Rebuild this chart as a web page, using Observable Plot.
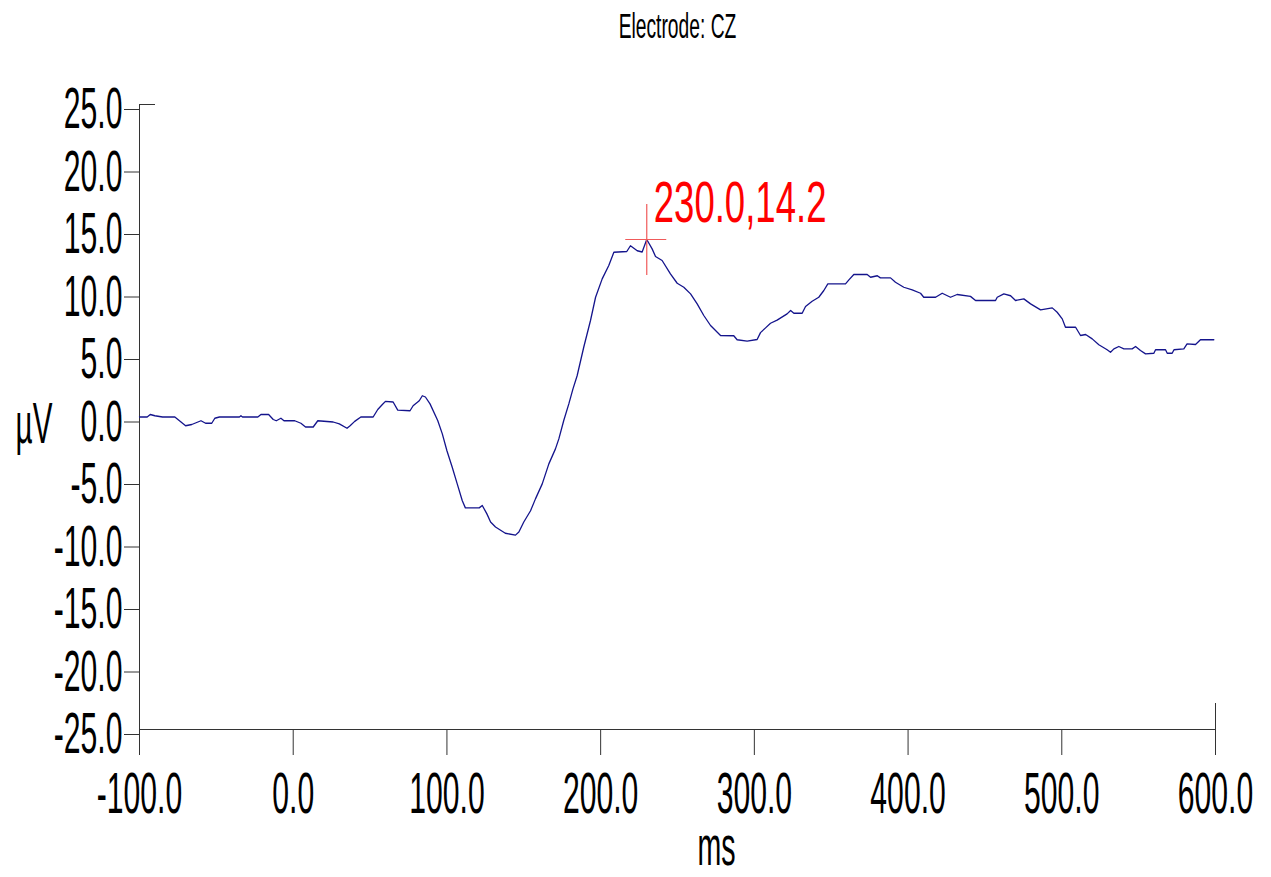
<!DOCTYPE html>
<html><head><meta charset="utf-8">
<script src="https://cdn.jsdelivr.net/npm/d3@7"></script>
<script src="https://cdn.jsdelivr.net/npm/@observablehq/plot@0.6"></script>
<style>body{margin:0;background:#fff;} #chart svg{display:block}</style>
</head><body><div id="chart"></div>
<script>
const title = "Electrode: CZ";
const xLabel = "ms";
const yLabel = "µV";
const xTicks = [-100, 0, 100, 200, 300, 400, 500, 600];
const yTicks = [-25, -20, -15, -10, -5, 0, 5, 10, 15, 20, 25];
const peakT = 230.0;
const peakV = 14.2;
const peakLabel = "230.0,14.2";

const timeMs = [-100,-95,-93,-90,-85,-77,-74,-70,-66,-62,-60,-57,-53,-51,-48,-35,-34,-33,-23,-21,-16,-13,-11,-8,-6,1,5,8,13,16,26,30,35,37,40,44,52,55,58,60,65,68,76,78,82,84,86,89,94,97,100,103.4,106.7,110,112,121,123,126,128.4,131.6,138,144.6,146.8,150,154.4,157.6,162,166.3,170.6,172.8,176,179.3,182,184.7,189,193.4,196.7,201,205.3,208.6,217,219.4,223.8,227,230,233.5,235.7,240,245.4,249.8,254.1,258.5,262.8,267.1,271.5,278,286.6,288.8,295.3,301.8,304,307.3,310.5,314.8,321.3,323.6,325.7,331.1,333.3,337.6,341.9,345.2,347.8,359.3,361.5,364.7,373.4,375.6,380,382,388.6,391.8,397.2,402.7,408.1,410.2,417.9,422.2,427.6,431.9,440.6,443.9,456.9,458,462.3,466.7,469.9,475.3,479.7,486.2,493.8,497,500.3,502.4,509,512.2,515.5,519.8,524.1,529.5,531.7,533.9,537.1,540.4,545.8,548,551.2,554.5,559.9,561,567.5,568.6,571.8,573,579.4,581.5,587,590.2,598.9];
const microV = [0.0,0.0,0.2,0.1,0.0,0.0,-0.3,-0.7,-0.6,-0.4,-0.3,-0.5,-0.5,-0.1,0.0,0.0,0.1,0.0,0.0,0.2,0.2,-0.2,-0.3,-0.1,-0.3,-0.3,-0.5,-0.8,-0.8,-0.3,-0.4,-0.55,-0.9,-0.7,-0.35,0.0,0.0,0.6,1.0,1.25,1.2,0.55,0.5,0.9,1.3,1.7,1.6,1.05,-0.28,-1.35,-2.7,-4.0,-5.35,-6.7,-7.27,-7.27,-7.08,-7.75,-8.4,-8.8,-9.3,-9.45,-9.2,-8.4,-7.5,-6.55,-5.35,-3.75,-2.55,-1.75,-0.28,1.05,2.25,3.3,5.58,7.72,9.58,11.05,12.12,13.18,13.24,13.7,13.3,13.2,14.2,13.45,12.84,12.52,11.45,10.7,10.38,9.85,9.05,8.12,7.32,6.52,6.5,6.18,6.07,6.2,6.75,7.13,7.5,7.75,8.25,8.52,8.3,8.3,8.84,9.26,9.58,10.12,10.65,10.65,10.97,11.4,11.4,11.18,11.3,11.13,11.13,10.78,10.38,10.17,9.9,9.58,9.58,9.9,9.58,9.8,9.65,9.32,9.32,9.58,9.85,9.7,9.32,9.45,9.05,8.57,8.73,8.38,7.85,7.18,7.18,6.52,6.6,6.25,5.78,5.38,5.18,5.45,5.64,5.45,5.45,5.64,5.32,5.05,5.1,5.38,5.38,5.1,5.1,5.38,5.45,5.85,5.8,6.18,6.18];

const data = timeMs.map((t, i) => ({t, v: microV[i]}));
const peak = [{t: peakT, v: peakV}];
const fmt = d => d.toFixed(1);

const chart = Plot.plot({
  width: 1271, height: 877,
  marginLeft: 139, marginRight: 56, marginTop: 104, marginBottom: 148,
  style: {fontFamily: "'Liberation Sans', Arial, sans-serif", fontSize: "58px", background: "#fff", color: "#000"},
  x: {domain: [-100, 600]},
  y: {domain: [-25, 25]},
  marks: [
    Plot.axisY({ticks: yTicks, tickFormat: fmt, tickSize: 15, tickPadding: 2, dy: 5, label: null, stroke: "#333", fill: "#000"}),
    Plot.axisX({ticks: xTicks, tickFormat: fmt, tickSize: 26, tickPadding: 16, label: null, stroke: "#333", fill: "#000"}),
    Plot.ruleX([-100], {stroke: "#333"}),
    Plot.ruleY([-25], {stroke: "#333"}),
    Plot.ruleX([600], {y1: -25, y2: -25, insetTop: -26, stroke: "#333"}),
    Plot.ruleY([25, -25], {x1: -100, x2: -100, insetRight: -16, stroke: "#333"}),
    Plot.line(data, {x: "t", y: "v", stroke: "#14148c", strokeWidth: 1.3}),
    Plot.ruleX(peak, {x: "t", y1: "v", y2: "v", insetTop: -35, insetBottom: -36, stroke: "#f05a5a", strokeWidth: 1.2}),
    Plot.ruleY(peak, {y: "v", x1: "t", x2: "t", insetLeft: -21, insetRight: -20, stroke: "#f05a5a", strokeWidth: 1.2}),
    Plot.text(peak, {x: "t", y: "v", text: () => peakLabel, textAnchor: "start", lineAnchor: "bottom", dx: 7, dy: -18, fill: "#ff0000", fontSize: 58}),
    Plot.text([title], {frameAnchor: "top", dy: -67, lineAnchor: "bottom", fontSize: 35, fill: "#000"}),
    Plot.text([yLabel], {frameAnchor: "left", dx: -105.5, dy: 25.5, textAnchor: "middle", lineAnchor: "bottom", fontSize: 58, fill: "#000"}),
    Plot.text([xLabel], {frameAnchor: "bottom", dx: 39, dy: 135, textAnchor: "middle", lineAnchor: "bottom", fontSize: 55, fill: "#000"})
  ]
});

const svg = chart.tagName.toLowerCase() === "svg" ? chart : chart.querySelector("svg");
const scales = {};
scales[peakLabel] = 0.63;
scales[title] = 0.55;
scales[yLabel] = 0.51;
scales[xLabel] = 0.52;
svg.querySelectorAll("text").forEach(el => {
  const s = scales[el.textContent] ?? 0.52;
  const x = parseFloat(el.getAttribute("x")) || 0;
  const t = el.getAttribute("transform") || "";
  el.setAttribute("transform", `${t} translate(${x},0) scale(${s},1) translate(${-x},0)`);
});
document.getElementById("chart").appendChild(chart);
</script>
</body></html>
